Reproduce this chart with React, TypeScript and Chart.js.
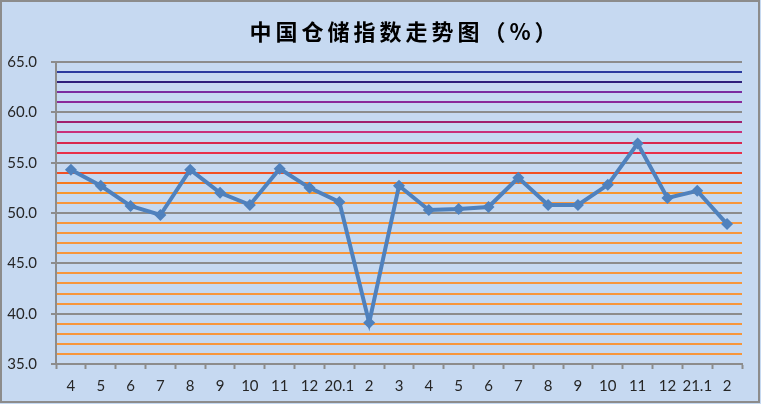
import React, { useEffect, useRef } from "react";
import { Chart, registerables } from "chart.js";

Chart.register(...registerables);

const categories = ["4", "5", "6", "7", "8", "9", "10", "11", "12", "20.1", "2", "3", "4", "5", "6", "7", "8", "9", "10", "11", "12", "21.1", "2"];
const values = [54.3, 52.7, 50.7, 49.8, 54.3, 52.0, 50.8, 54.4, 52.5, 51.1, 39.1, 52.7, 50.3, 50.4, 50.6, 53.5, 50.8, 50.8, 52.8, 56.9, 51.5, 52.2, 48.9];
const titleText = "中国仓储指数走势图（%）";

const gridColors: Record<number, string> = {
  64: "#2B3A9E",
  63: "#2E1F7A",
  62: "#7A2CA0",
  61: "#8A2A9A",
  59: "#A0206E",
  58: "#C8307A",
  57: "#D8284F",
  56: "#E8304A",
  54: "#F25022",
  53: "#F57A1F",
  52: "#F7962E",
};

function gridColorFor(v: number): string {
  if (v % 5 === 0) return "#8C8C8C";
  if (gridColors[v]) return gridColors[v];
  return "#F7963C";
}

export default function App() {
  const ref = useRef<HTMLCanvasElement | null>(null);
  useEffect(() => {
    document.body.style.margin = "0";
    const canvas = ref.current!;
    const bgPlugin = {
      id: "bgAndTitle",
      beforeDraw(chart: any) {
        const ctx = chart.ctx;
        ctx.save();
        ctx.fillStyle = "#C6D9F1";
        ctx.fillRect(0, 0, chart.width, chart.height);
        ctx.strokeStyle = "#8C8C8C";
        ctx.lineWidth = 2;
        ctx.strokeRect(1, 1, chart.width - 3, chart.height - 3);
        ctx.restore();
      },
      afterDraw(chart: any) {
        const ctx = chart.ctx;
        ctx.save();
        ctx.fillStyle = "#000";
        ctx.font = "bold 22px 'Noto Sans CJK SC'";
        (ctx as any).letterSpacing = "4px";
        ctx.textAlign = "center";
        ctx.textBaseline = "middle";
        ctx.fillText(titleText, 405, 32);
        ctx.restore();
      },
    };
    const chart = new Chart(canvas, {
      type: "line",
      data: {
        labels: categories,
        datasets: [
          {
            data: values,
            borderColor: "#4F81BD",
            backgroundColor: "#4F81BD",
            borderWidth: 4,
            pointStyle: "rectRot",
            pointRadius: 6,
            pointHoverRadius: 6,
            pointBorderWidth: 0,
            tension: 0,
          },
        ],
      },
      plugins: [bgPlugin],
      options: {
        animation: false,
        responsive: false,
        maintainAspectRatio: false,
        events: [],
        layout: { padding: { left: 0, top: 62, right: 19, bottom: 0 } },
        plugins: { legend: { display: false }, title: { display: false }, tooltip: { enabled: false } },
        scales: {
          x: {
            offset: true,
            grid: {
              offset: true,
              drawOnChartArea: false,
              drawTicks: true,
              tickLength: 5,
              tickColor: "#8C8C8C",
              tickWidth: 2,
              color: "#8C8C8C",
            },
            border: { color: "#8C8C8C", width: 2 },
            ticks: {
              color: "#262626",
              font: { family: "Lato", size: 15 },
              padding: 8,
              maxRotation: 0,
              autoSkip: false,
            },
            afterFit(scale: any) {
              scale.height = 40;
            },
          },
          y: {
            min: 35,
            max: 65,
            grid: {
              color: (ctx: any) => gridColorFor(ctx.tick.value),
              lineWidth: 2,
              tickLength: 5,
              tickColor: (ctx: any) => (ctx.tick.value % 5 === 0 ? "#8C8C8C" : "rgba(0,0,0,0)"),
              tickWidth: 2,
            },
            border: { color: "#8C8C8C", width: 2 },
            ticks: {
              stepSize: 1,
              autoSkip: false,
              color: "#262626",
              font: { family: "Lato", size: 15 },
              padding: 14,
              callback: (v: any) => (Number(v) % 5 === 0 ? Number(v).toFixed(1) : ""),
            },
            afterFit(scale: any) {
              scale.width = 56;
            },
          },
        },
      },
    });
    return () => chart.destroy();
  }, []);
  return <canvas ref={ref} width={761} height={404} style={{ display: "block" }} />;
}
